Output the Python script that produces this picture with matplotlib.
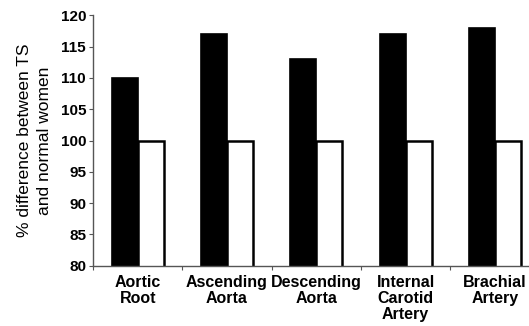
import matplotlib
matplotlib.use("Agg")
import matplotlib.pyplot as plt
import numpy as np

categories = ["Aortic\nRoot", "Ascending\nAorta", "Descending\nAorta", "Internal\nCarotid\nArtery", "Brachial\nArtery"]
ts_values = [110, 117, 113, 117, 118]
normal_values = [100, 100, 100, 100, 100]
yticks = [80, 85, 90, 95, 100, 105, 110, 115, 120]

plt.rcParams['font.family'] = ['Liberation Sans', 'DejaVu Sans']

fig = plt.figure(figsize=(5.29, 3.26), dpi=100)
ax = fig.add_axes([93/529, 1-265.7/326, (529-93)/529 + 0.02, (265.7-15.3)/326])

x = np.arange(len(categories))
w = 0.29
ax.bar(x - w/2, ts_values, width=w, color='black', edgecolor='black', linewidth=1.2)
ax.bar(x + w/2, normal_values, width=w, color='white', edgecolor='black', linewidth=1.8)

ax.set_ylim(80, 120)
ax.set_xlim(-0.5, len(categories) - 0.5)
ax.set_yticks(yticks)
ax.set_yticklabels([str(v) for v in yticks], fontsize=11, fontweight='bold')

ax.set_xticks(np.arange(len(categories)) - 0.5)
ax.set_xticklabels([])
ax.set_xticks(x, minor=True)
ax.set_xticklabels(categories, minor=True, fontsize=11.5, fontweight='bold', linespacing=1.05)
ax.tick_params(axis='x', which='minor', length=0, pad=7)
ax.tick_params(axis='x', which='major', length=3, color='#555555', direction='out')
ax.tick_params(axis='y', length=3, color='#555555', direction='out', pad=2)

for s in ['top', 'right']:
    ax.spines[s].set_visible(False)
for s in ['left', 'bottom']:
    ax.spines[s].set_color('#555555')
    ax.spines[s].set_linewidth(1.0)

ax.set_ylabel("% difference between TS\nand normal women", fontsize=12.5, linespacing=1.45, labelpad=6)

fig.savefig("out.png", dpi=100)
